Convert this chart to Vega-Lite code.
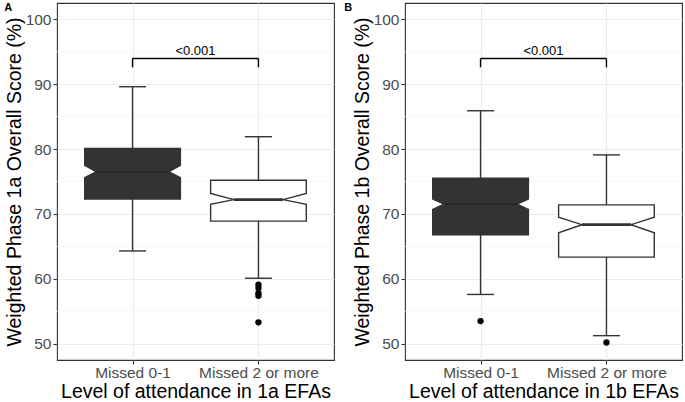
{
  "$schema": "https://vega.github.io/schema/vega-lite/v6.json",
  "padding": {"left": 3, "top": 1, "right": 0, "bottom": 0},
  "spacing": 8,
  "datasets": {
    "boxes": [
      {"panel": "A", "g": 1, "lower": 72.3, "notchLo": 75.6, "median": 76.5, "notchHi": 77.5, "upper": 80.1, "ymin": 64.3, "ymax": 89.6},
      {"panel": "A", "g": 2, "lower": 68.9, "notchLo": 71.5, "median": 72.2, "notchHi": 73.15, "upper": 75.2, "ymin": 60.1, "ymax": 81.9},
      {"panel": "B", "g": 1, "lower": 66.8, "notchLo": 70.7, "median": 71.5, "notchHi": 72.3, "upper": 75.5, "ymin": 57.6, "ymax": 85.9},
      {"panel": "B", "g": 2, "lower": 63.35, "notchLo": 67.1, "median": 68.35, "notchHi": 69.5, "upper": 71.4, "ymin": 51.25, "ymax": 79.1}
    ],
    "outliers": [
      {"panel": "A", "g": 2, "v": 59.1},
      {"panel": "A", "g": 2, "v": 58.6},
      {"panel": "A", "g": 2, "v": 57.8},
      {"panel": "A", "g": 2, "v": 57.4},
      {"panel": "A", "g": 2, "v": 53.3},
      {"panel": "B", "g": 1, "v": 53.5},
      {"panel": "B", "g": 2, "v": 50.2}
    ],
    "brackets": [
      {"panel": "A", "x1": 1, "x2": 2, "xmid": 1.5, "y": 93.95, "yEnd": 92.6, "label": "<0.001"},
      {"panel": "B", "x1": 1, "x2": 2, "xmid": 1.5, "y": 93.95, "yEnd": 92.6, "label": "<0.001"}
    ],
    "minor": [{"m": 55}, {"m": 65}, {"m": 75}, {"m": 85}, {"m": 95}]
  },
  "hconcat": [
    {
      "width": 277,
      "height": 357,
      "title": {"text": "A", "anchor": "start", "frame": "bounds", "fontSize": 11, "fontWeight": "bold", "color": "#000000", "offset": -10},
      "layer": [
        {
          "data": {"name": "minor"},
          "mark": {"type": "rule", "color": "#F5F5F5", "strokeWidth": 0.7},
          "encoding": {"y": {"field": "m", "type": "quantitative", "scale": {"domain": [47.5, 102.5], "nice": false, "zero": false}, "title": "Weighted Phase 1a Overall Score (%)", "axis": {"values": [50, 60, 70, 80, 90, 100]}}}
        },
        {
          "data": {"name": "boxes"},
          "transform": [
            {"filter": "datum.panel == 'A' && datum.g == 1"},
            {"fold": ["lower", "notchLo", "median", "notchHi", "upper"], "as": ["k", "v"]},
            {"calculate": "datum.k == 'median' ? 0.09 : 0", "as": "inset"},
            {"calculate": "datum.g - 0.38 + datum.inset", "as": "xl"},
            {"calculate": "datum.g + 0.38 - datum.inset", "as": "xr"}
          ],
          "mark": {"type": "area", "orient": "horizontal", "fill": "#333333", "stroke": "#333333", "strokeWidth": 1.4, "opacity": 1, "fillOpacity": 1},
          "encoding": {
            "y": {"field": "v", "type": "quantitative", "scale": {"domain": [47.5, 102.5], "nice": false, "zero": false}, "title": "Weighted Phase 1a Overall Score (%)", "axis": {"values": [50, 60, 70, 80, 90, 100]}},
            "x": {"field": "xl", "type": "quantitative", "stack": null, "scale": {"domain": [0.4, 2.6], "nice": false, "zero": false}, "title": "Level of attendance in 1a EFAs", "axis": {"values": [1, 2], "labelExpr": "datum.value == 1 ? 'Missed 0-1' : 'Missed 2 or more'"}},
            "x2": {"field": "xr"}
          }
        },
        {
          "data": {"name": "boxes"},
          "transform": [
            {"filter": "datum.panel == 'A' && datum.g == 2"},
            {"fold": ["lower", "notchLo", "median", "notchHi", "upper"], "as": ["k", "v"]},
            {"calculate": "datum.k == 'median' ? 0.185 : 0", "as": "inset"},
            {"calculate": "datum.g - 0.38 + datum.inset", "as": "xl"},
            {"calculate": "datum.g + 0.38 - datum.inset", "as": "xr"}
          ],
          "mark": {"type": "area", "orient": "horizontal", "fill": "#FFFFFF", "stroke": "#333333", "strokeWidth": 1.4, "opacity": 1, "fillOpacity": 1},
          "encoding": {
            "y": {"field": "v", "type": "quantitative"},
            "x": {"field": "xl", "type": "quantitative", "stack": null},
            "x2": {"field": "xr"}
          }
        },
        {
          "data": {"name": "boxes"},
          "transform": [{"filter": "datum.panel == 'A'"}],
          "mark": {"type": "rule", "color": "#333333", "strokeWidth": 1.4},
          "encoding": {"x": {"field": "g", "type": "quantitative"}, "y": {"field": "upper", "type": "quantitative"}, "y2": {"field": "ymax"}}
        },
        {
          "data": {"name": "boxes"},
          "transform": [{"filter": "datum.panel == 'A'"}],
          "mark": {"type": "rule", "color": "#333333", "strokeWidth": 1.4},
          "encoding": {"x": {"field": "g", "type": "quantitative"}, "y": {"field": "lower", "type": "quantitative"}, "y2": {"field": "ymin"}}
        },
        {
          "data": {"name": "boxes"},
          "transform": [{"filter": "datum.panel == 'A'"}],
          "mark": {"type": "tick", "orient": "horizontal", "color": "#333333", "size": 27, "thickness": 1.4, "opacity": 1},
          "encoding": {"x": {"field": "g", "type": "quantitative"}, "y": {"field": "ymax", "type": "quantitative"}}
        },
        {
          "data": {"name": "boxes"},
          "transform": [{"filter": "datum.panel == 'A'"}],
          "mark": {"type": "tick", "orient": "horizontal", "color": "#333333", "size": 27, "thickness": 1.4, "opacity": 1},
          "encoding": {"x": {"field": "g", "type": "quantitative"}, "y": {"field": "ymin", "type": "quantitative"}}
        },
        {
          "data": {"name": "boxes"},
          "transform": [{"filter": "datum.panel == 'A' && datum.g == 2"}],
          "mark": {"type": "tick", "orient": "horizontal", "color": "#333333", "size": 49, "thickness": 2.6, "opacity": 1},
          "encoding": {"x": {"field": "g", "type": "quantitative"}, "y": {"field": "median", "type": "quantitative"}}
        },
        {
          "data": {"name": "boxes"},
          "transform": [{"filter": "datum.panel == 'A' && datum.g == 1"}],
          "mark": {"type": "tick", "orient": "horizontal", "color": "#2A2A2A", "size": 73, "thickness": 2.6, "opacity": 1},
          "encoding": {"x": {"field": "g", "type": "quantitative"}, "y": {"field": "median", "type": "quantitative"}}
        },
        {
          "data": {"name": "outliers"},
          "transform": [{"filter": "datum.panel == 'A'"}],
          "mark": {"type": "circle", "color": "#000000", "size": 40, "opacity": 1},
          "encoding": {"x": {"field": "g", "type": "quantitative"}, "y": {"field": "v", "type": "quantitative"}}
        },
        {
          "data": {"name": "brackets"},
          "transform": [{"filter": "datum.panel == 'A'"}],
          "mark": {"type": "rule", "color": "#000000", "strokeWidth": 1.4},
          "encoding": {"x": {"field": "x1", "type": "quantitative"}, "x2": {"field": "x2"}, "y": {"field": "y", "type": "quantitative"}}
        },
        {
          "data": {"name": "brackets"},
          "transform": [{"filter": "datum.panel == 'A'"}],
          "mark": {"type": "rule", "color": "#000000", "strokeWidth": 1.4},
          "encoding": {"x": {"field": "x1", "type": "quantitative"}, "y": {"field": "y", "type": "quantitative"}, "y2": {"field": "yEnd"}}
        },
        {
          "data": {"name": "brackets"},
          "transform": [{"filter": "datum.panel == 'A'"}],
          "mark": {"type": "rule", "color": "#000000", "strokeWidth": 1.4},
          "encoding": {"x": {"field": "x2", "type": "quantitative"}, "y": {"field": "y", "type": "quantitative"}, "y2": {"field": "yEnd"}}
        },
        {
          "data": {"name": "brackets"},
          "transform": [{"filter": "datum.panel == 'A'"}],
          "mark": {"type": "text", "color": "#000000", "fontSize": 13, "baseline": "alphabetic", "dy": -3, "font": "Liberation Sans"},
          "encoding": {"x": {"field": "xmid", "type": "quantitative"}, "y": {"field": "y", "type": "quantitative"}, "text": {"field": "label"}}
        }
      ]
    },
    {
      "width": 277,
      "height": 357,
      "title": {"text": "B", "anchor": "start", "frame": "bounds", "fontSize": 11, "fontWeight": "bold", "color": "#000000", "offset": -10, "dx": -8},
      "layer": [
        {
          "data": {"name": "minor"},
          "mark": {"type": "rule", "color": "#F5F5F5", "strokeWidth": 0.7},
          "encoding": {"y": {"field": "m", "type": "quantitative", "scale": {"domain": [47.5, 102.5], "nice": false, "zero": false}, "title": "Weighted Phase 1b Overall Score (%)", "axis": {"values": [50, 60, 70, 80, 90, 100]}}}
        },
        {
          "data": {"name": "boxes"},
          "transform": [
            {"filter": "datum.panel == 'B' && datum.g == 1"},
            {"fold": ["lower", "notchLo", "median", "notchHi", "upper"], "as": ["k", "v"]},
            {"calculate": "datum.k == 'median' ? 0.09 : 0", "as": "inset"},
            {"calculate": "datum.g - 0.38 + datum.inset", "as": "xl"},
            {"calculate": "datum.g + 0.38 - datum.inset", "as": "xr"}
          ],
          "mark": {"type": "area", "orient": "horizontal", "fill": "#333333", "stroke": "#333333", "strokeWidth": 1.4, "opacity": 1, "fillOpacity": 1},
          "encoding": {
            "y": {"field": "v", "type": "quantitative", "scale": {"domain": [47.5, 102.5], "nice": false, "zero": false}, "title": "Weighted Phase 1b Overall Score (%)", "axis": {"values": [50, 60, 70, 80, 90, 100]}},
            "x": {"field": "xl", "type": "quantitative", "stack": null, "scale": {"domain": [0.4, 2.6], "nice": false, "zero": false}, "title": "Level of attendance in 1b EFAs", "axis": {"values": [1, 2], "labelExpr": "datum.value == 1 ? 'Missed 0-1' : 'Missed 2 or more'"}},
            "x2": {"field": "xr"}
          }
        },
        {
          "data": {"name": "boxes"},
          "transform": [
            {"filter": "datum.panel == 'B' && datum.g == 2"},
            {"fold": ["lower", "notchLo", "median", "notchHi", "upper"], "as": ["k", "v"]},
            {"calculate": "datum.k == 'median' ? 0.185 : 0", "as": "inset"},
            {"calculate": "datum.g - 0.38 + datum.inset", "as": "xl"},
            {"calculate": "datum.g + 0.38 - datum.inset", "as": "xr"}
          ],
          "mark": {"type": "area", "orient": "horizontal", "fill": "#FFFFFF", "stroke": "#333333", "strokeWidth": 1.4, "opacity": 1, "fillOpacity": 1},
          "encoding": {
            "y": {"field": "v", "type": "quantitative"},
            "x": {"field": "xl", "type": "quantitative", "stack": null},
            "x2": {"field": "xr"}
          }
        },
        {
          "data": {"name": "boxes"},
          "transform": [{"filter": "datum.panel == 'B'"}],
          "mark": {"type": "rule", "color": "#333333", "strokeWidth": 1.4},
          "encoding": {"x": {"field": "g", "type": "quantitative"}, "y": {"field": "upper", "type": "quantitative"}, "y2": {"field": "ymax"}}
        },
        {
          "data": {"name": "boxes"},
          "transform": [{"filter": "datum.panel == 'B'"}],
          "mark": {"type": "rule", "color": "#333333", "strokeWidth": 1.4},
          "encoding": {"x": {"field": "g", "type": "quantitative"}, "y": {"field": "lower", "type": "quantitative"}, "y2": {"field": "ymin"}}
        },
        {
          "data": {"name": "boxes"},
          "transform": [{"filter": "datum.panel == 'B'"}],
          "mark": {"type": "tick", "orient": "horizontal", "color": "#333333", "size": 27, "thickness": 1.4, "opacity": 1},
          "encoding": {"x": {"field": "g", "type": "quantitative"}, "y": {"field": "ymax", "type": "quantitative"}}
        },
        {
          "data": {"name": "boxes"},
          "transform": [{"filter": "datum.panel == 'B'"}],
          "mark": {"type": "tick", "orient": "horizontal", "color": "#333333", "size": 27, "thickness": 1.4, "opacity": 1},
          "encoding": {"x": {"field": "g", "type": "quantitative"}, "y": {"field": "ymin", "type": "quantitative"}}
        },
        {
          "data": {"name": "boxes"},
          "transform": [{"filter": "datum.panel == 'B' && datum.g == 2"}],
          "mark": {"type": "tick", "orient": "horizontal", "color": "#333333", "size": 49, "thickness": 2.6, "opacity": 1},
          "encoding": {"x": {"field": "g", "type": "quantitative"}, "y": {"field": "median", "type": "quantitative"}}
        },
        {
          "data": {"name": "boxes"},
          "transform": [{"filter": "datum.panel == 'B' && datum.g == 1"}],
          "mark": {"type": "tick", "orient": "horizontal", "color": "#2A2A2A", "size": 73, "thickness": 2.6, "opacity": 1},
          "encoding": {"x": {"field": "g", "type": "quantitative"}, "y": {"field": "median", "type": "quantitative"}}
        },
        {
          "data": {"name": "outliers"},
          "transform": [{"filter": "datum.panel == 'B'"}],
          "mark": {"type": "circle", "color": "#000000", "size": 40, "opacity": 1},
          "encoding": {"x": {"field": "g", "type": "quantitative"}, "y": {"field": "v", "type": "quantitative"}}
        },
        {
          "data": {"name": "brackets"},
          "transform": [{"filter": "datum.panel == 'B'"}],
          "mark": {"type": "rule", "color": "#000000", "strokeWidth": 1.4},
          "encoding": {"x": {"field": "x1", "type": "quantitative"}, "x2": {"field": "x2"}, "y": {"field": "y", "type": "quantitative"}}
        },
        {
          "data": {"name": "brackets"},
          "transform": [{"filter": "datum.panel == 'B'"}],
          "mark": {"type": "rule", "color": "#000000", "strokeWidth": 1.4},
          "encoding": {"x": {"field": "x1", "type": "quantitative"}, "y": {"field": "y", "type": "quantitative"}, "y2": {"field": "yEnd"}}
        },
        {
          "data": {"name": "brackets"},
          "transform": [{"filter": "datum.panel == 'B'"}],
          "mark": {"type": "rule", "color": "#000000", "strokeWidth": 1.4},
          "encoding": {"x": {"field": "x2", "type": "quantitative"}, "y": {"field": "y", "type": "quantitative"}, "y2": {"field": "yEnd"}}
        },
        {
          "data": {"name": "brackets"},
          "transform": [{"filter": "datum.panel == 'B'"}],
          "mark": {"type": "text", "color": "#000000", "fontSize": 13, "baseline": "alphabetic", "dy": -3, "font": "Liberation Sans"},
          "encoding": {"x": {"field": "xmid", "type": "quantitative"}, "y": {"field": "y", "type": "quantitative"}, "text": {"field": "label"}}
        }
      ]
    }
  ],
  "config": {
    "font": "Liberation Sans",
    "background": "#FFFFFF",
    "view": {"stroke": "#333333", "strokeWidth": 1.1},
    "title": {"font": "Liberation Sans"},
    "axis": {
      "labelFont": "Liberation Sans",
      "labelFontSize": 15.5,
      "labelColor": "#4D4D4D",
      "titleFont": "Liberation Sans",
      "titleFontSize": 19.5,
      "titleFontWeight": "normal",
      "titleColor": "#000000",
      "tickColor": "#333333",
      "tickSize": 4,
      "tickWidth": 1.1,
      "domain": false,
      "gridColor": "#EBEBEB",
      "gridWidth": 1.2,
      "labelAngle": 0
    },
    "axisY": {"labelPadding": 2, "titlePadding": 1},
    "axisX": {"labelPadding": 1, "titlePadding": 2}
  }
}
